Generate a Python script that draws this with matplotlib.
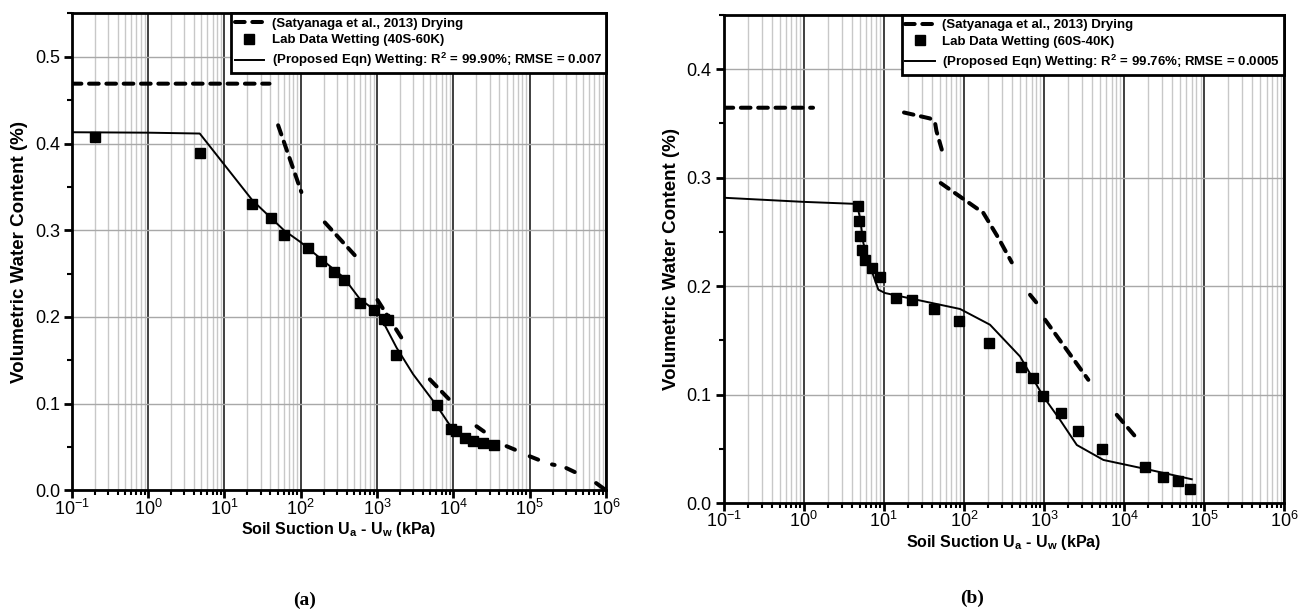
import numpy as np
import matplotlib
matplotlib.use("Agg")
import matplotlib.pyplot as plt
from matplotlib.ticker import (LogLocator, MultipleLocator, NullFormatter,
                               FormatStrFormatter, FixedLocator, LogFormatterSciNotation)

plt.rcParams['font.family'] = ['Liberation Sans', 'DejaVu Sans']
plt.rcParams['mathtext.default'] = 'regular'

nan = np.nan

# ---------------- (a) 40S-60K ----------------
lab_a_suction = [0.2, 4.76, 23.3, 41.4, 60.7, 125, 187, 271, 364, 596, 900,
                 1216, 1400, 1762, 6026, 9190, 10800, 14150, 17860, 24150, 34300]
lab_a_vwc = [0.407, 0.389, 0.330, 0.314, 0.295, 0.279, 0.265, 0.252, 0.243, 0.216,
             0.208, 0.198, 0.196, 0.156, 0.098, 0.0714, 0.068, 0.0606, 0.0575,
             0.0548, 0.0529]

fit_a_suction = [0.1, 1, 4.76, 23.3, 60.7, 100, 364, 596, 900, 1090, 1800, 2970,
                 6026, 9000, 12800, 22200, 36800]
fit_a_vwc = [0.413, 0.4125, 0.4115, 0.3345, 0.2998, 0.2862, 0.2457, 0.2207, 0.209,
             0.2014, 0.1647, 0.134, 0.098, 0.0752, 0.0644, 0.0559, 0.0498]

dry_a_suction = [0.1, 39, nan, 50.6, 102, nan, 207, 513, nan, 1014, 2090, nan,
                 4920, 9270, nan, 20100, 25100, nan, 49800, 64000, nan,
                 100000, 129000, nan, 196000, 212000, nan, 302000, 389000, nan,
                 741000, 977000]
dry_a_vwc = [0.469, 0.469, nan, 0.421, 0.344, nan, 0.309, 0.271, nan, 0.2196, 0.176,
             nan, 0.128, 0.103, nan, 0.074, 0.068, nan, 0.051, 0.047, nan,
             0.0394, 0.0355, nan, 0.0300, 0.0294, nan, 0.0258, 0.0212, nan,
             0.0085, 0.0008]

# ---------------- (b) 60S-40K ----------------
lab_b_suction = [4.82, 4.96, 5.06, 5.41, 5.84, 7.08, 9.0, 14.1, 22.4, 42.9, 87.9,
                 207, 513, 738, 966, 1635, 2642, 5360, 18300, 31000, 47700, 66700]
lab_b_vwc = [0.2742, 0.2597, 0.2459, 0.2336, 0.2237, 0.2167, 0.2080, 0.1890, 0.1868,
             0.1789, 0.1674, 0.1475, 0.1253, 0.1151, 0.0991, 0.0828, 0.0668, 0.0499,
             0.0330, 0.0243, 0.0203, 0.0129]

fit_b_suction = [0.1, 0.99, 4.6, 5.06, 5.56, 6.74, 8.57, 10.4, 25.8, 89.8, 212, 503,
                 985, 1590, 2570, 5520, 10800, 21100, 70000]
fit_b_vwc = [0.2815, 0.2777, 0.2758, 0.2629, 0.2398, 0.2182, 0.1967, 0.1936, 0.1874,
             0.1789, 0.1644, 0.1351, 0.0981, 0.0766, 0.0535, 0.0397, 0.0351, 0.0305,
             0.0219]

dry_b_suction = [0.1, 1.31, nan, 17.9, 37.8, 43.7, 45.5, 53, nan, 51.5, 175, 270, 396,
                 nan, 670, 813, nan, 1033, 3580, nan, 8110, 14400]
dry_b_vwc = [0.3645, 0.3645, nan, 0.3601, 0.3546, 0.3506, 0.343, 0.3259, nan, 0.295,
             0.2675, 0.2444, 0.2219, nan, 0.192, 0.1844, nan, 0.169, 0.1136, nan,
             0.0813, 0.0597]

x_lim = (0.1, 1e6)
x_major = [1e-1, 1e0, 1e1, 1e2, 1e3, 1e4, 1e5, 1e6]

panels = [
    dict(rect=[0.0545, 0.196, 0.4060, 0.782], ylim=(0, 0.55),
         yticks=[0.0, 0.1, 0.2, 0.3, 0.4, 0.5],
         lab=(lab_a_suction, lab_a_vwc), fit=(fit_a_suction, fit_a_vwc),
         dry=(dry_a_suction, dry_a_vwc),
         lab_label='Lab Data Wetting (40S-60K)',
         fit_label='(Proposed Eqn) Wetting: R$^2$ = 99.90%; RMSE = 0.007',
         tag='(a)', tag_xy=(305, 600)),
    dict(rect=[0.5498, 0.1754, 0.4261, 0.800], ylim=(0, 0.45),
         yticks=[0.0, 0.1, 0.2, 0.3, 0.4],
         lab=(lab_b_suction, lab_b_vwc), fit=(fit_b_suction, fit_b_vwc),
         dry=(dry_b_suction, dry_b_vwc),
         lab_label='Lab Data Wetting (60S-40K)',
         fit_label='(Proposed Eqn) Wetting: R$^2$ = 99.76%; RMSE = 0.0005',
         tag='(b)', tag_xy=(972, 598)),
]

W, H = 1316, 610
fig = plt.figure(figsize=(W / 100, H / 100), dpi=100)

for p in panels:
    ax = fig.add_axes(p['rect'])
    ax.set_xscale('log')
    ax.set_xlim(*x_lim)
    ax.set_ylim(*p['ylim'])

    ax.xaxis.set_major_locator(FixedLocator(x_major))
    ax.xaxis.set_major_formatter(LogFormatterSciNotation())
    minor = [m * d for d in x_major[:-1] for m in range(2, 10)]
    ax.xaxis.set_minor_locator(FixedLocator(minor))
    ax.xaxis.set_minor_formatter(NullFormatter())
    ax.yaxis.set_major_locator(FixedLocator(p['yticks']))
    ax.yaxis.set_minor_locator(MultipleLocator(0.05))
    ax.yaxis.set_major_formatter(FormatStrFormatter('%.1f'))

    ax.grid(which='minor', axis='x', color='#c8c8c8', lw=1.0)
    ax.grid(which='major', axis='x', color='#303030', lw=1.3)
    ax.grid(which='major', axis='y', color='#a8a8a8', lw=1.0)
    ax.set_axisbelow(True)

    for s in ax.spines.values():
        s.set_linewidth(2.0)
        s.set_color('black')
    ax.tick_params(which='major', direction='out', length=5.5, width=2,
                   labelsize=13)
    ax.tick_params(axis='x', which='major', pad=0.5)
    ax.tick_params(axis='y', which='major', pad=3)
    ax.tick_params(which='minor', direction='out', length=3.5, width=1.5)

    dry_line, = ax.plot(p['dry'][0], p['dry'][1], color='black', lw=2.9,
                        linestyle=(0, (2.4, 1.9)), dash_capstyle='round',
                        label='(Satyanaga et al., 2013) Drying')
    lab_pts, = ax.plot(p['lab'][0], p['lab'][1], 's', color='black', ms=6.5,
                       label=p['lab_label'])
    fit_line, = ax.plot(p['fit'][0], p['fit'][1], color='black', lw=1.4,
                        label=p['fit_label'])

    leg = ax.legend(handles=[dry_line, lab_pts, fit_line], loc='upper right',
                    borderaxespad=0, fancybox=False, framealpha=1,
                    edgecolor='black', prop={'weight': 'bold', 'size': 9.5},
                    handlelength=2.2, labelspacing=0.35, borderpad=0.3,
                    handletextpad=0.6)
    leg.get_frame().set_linewidth(2.0)

    ax.set_xlabel('Soil Suction U$_a$ - U$_w$ (kPa)', fontweight='bold',
                  fontsize=11.5, labelpad=1)
    ax.set_ylabel('Volumetric Water Content (%)', fontweight='bold',
                  fontsize=13.5, labelpad=5)

    fig.text(p['tag_xy'][0] / W, 1 - p['tag_xy'][1] / H, p['tag'],
             family='Liberation Serif', fontweight='bold', fontsize=14,
             ha='center', va='center')

fig.savefig('out.png', dpi=100)
